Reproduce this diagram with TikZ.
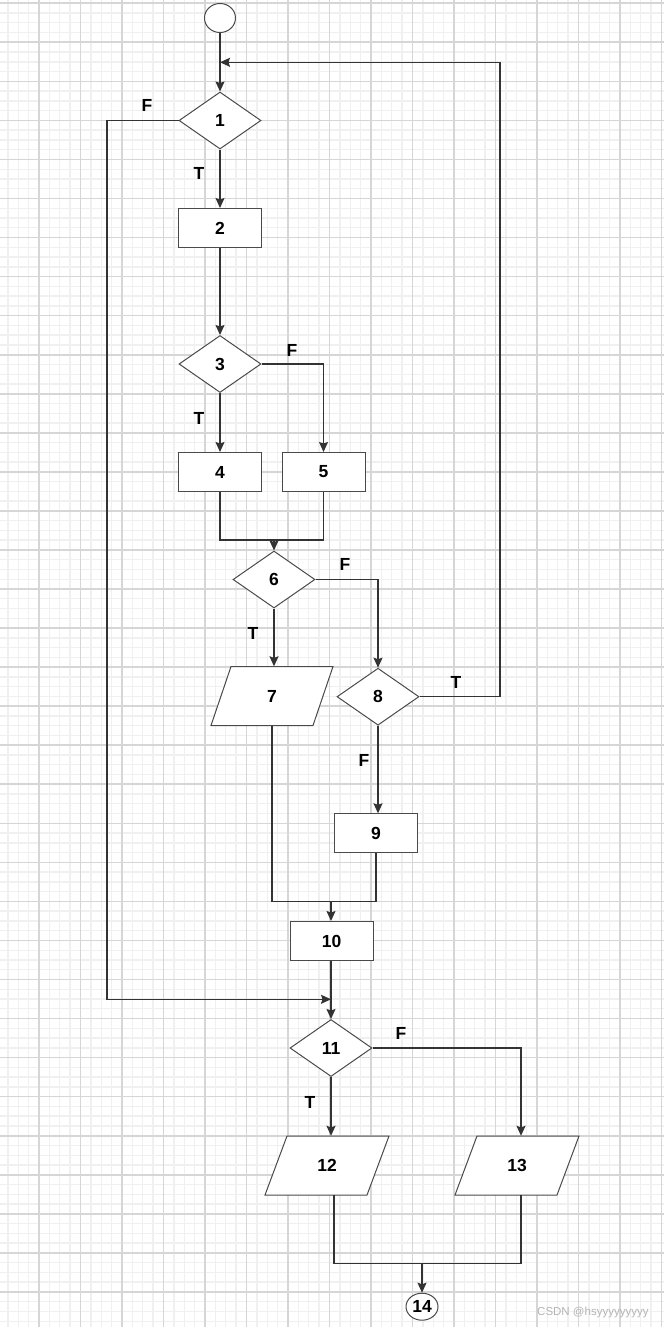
\documentclass[tikz,border=0pt]{standalone}
\usepackage{fontspec}
\setmainfont{Liberation Sans}
\usetikzlibrary{shapes.geometric,arrows.meta,calc}
\definecolor{gmajc}{HTML}{D6D6D6}
\definecolor{gminc}{HTML}{F0F0F0}
\definecolor{linec}{HTML}{333333}
\definecolor{shpc}{HTML}{4A4A4A}
\definecolor{wmc}{HTML}{B4B4B4}
\begin{document}
\begin{tikzpicture}[x=1pt,y=-1pt,
  every node/.style={font=\fontsize{17.5}{17.5}\selectfont\bfseries},
  gmin/.style={draw=gminc,line width=1.4pt},
  gmaj/.style={draw=gmajc,line width=1.6pt},
  ln/.style={draw=linec,line width=1.3pt},
  arr/.style={ln,-{Stealth[length=10pt,width=9pt,inset=1.5pt]}},
  shp/.style={draw=shpc,line width=1pt,fill=white,inner sep=0pt},
  proc/.style={shp,rectangle,minimum width=83pt,minimum height=39pt},
  dec/.style={shp,diamond,minimum width=82pt,minimum height=57pt},
  io/.style={rectangle,inner sep=0pt,minimum width=102pt,minimum height=59pt},
  iob/.style={shp},
  term/.style={shp,ellipse,minimum width=31pt,minimum height=29pt},
  lbl/.style={inner sep=0pt}
]
\useasboundingbox (0,0) rectangle (664,1327);
\fill[white] (0,0) rectangle (664,1327);
% grid
\foreach \i in {0,...,64} \draw[gmin] ({-2.5+10.375*\i},0) -- ({-2.5+10.375*\i},1327);
\foreach \i in {0,...,136} \draw[gmin] (0,{3.25+9.7625*\i}) -- (664,{3.25+9.7625*\i});
\foreach \i in {0,...,16} \draw[gmaj] ({-2.5+41.5*\i},0) -- ({-2.5+41.5*\i},1327);
\foreach \i in {0,...,33} \draw[gmaj] (0,{3.25+39.05*\i}) -- (664,{3.25+39.05*\i});

% parallelogram bodies (positions of the io nodes)
\coordinate (p7) at (272,696);
\coordinate (p12) at (327,1165.5);
\coordinate (p13) at (517,1165.5);
\foreach \p/\o in {p7/10, p12/11, p13/11}{
  \path[iob] ($(\p)+(-51+\o,-29.5)$) -- ($(\p)+(51+\o,-29.5)$) -- ($(\p)+(51-\o,29.5)$) -- ($(\p)+(-51-\o,29.5)$) -- cycle;
}

% nodes
\node[term] (n0) at (220,18) {};
\node[dec] (n1) at (220,120.5) {1};
\node[proc] (n2) at (220,228) {2};
\node[dec] (n3) at (220,364) {3};
\node[proc] (n4) at (220,472) {4};
\node[proc] (n5) at (323.5,472) {5};
\node[dec] (n6) at (274,579.5) {6};
\node[io] (n7) at (p7) {7};
\node[dec] (n8) at (378,696.7) {8};
\node[proc] (n9) at (376,833.3) {9};
\node[proc] (n10) at (331.5,941) {10};
\node[dec] (n11) at (331,1048) {11};
\node[io] (n12) at (p12) {12};
\node[io] (n13) at (p13) {13};
\node[term,minimum width=32pt,minimum height=27pt] (n14) at (422,1306.7) {14};

% junction coordinates
\coordinate (j1) at (220,62.3);
\coordinate (c8) at (500,62.3);
\coordinate (c1) at (107,999.3);
\coordinate (j3) at (331,999.3);
\coordinate (j4) at (274,540);
\coordinate (j2) at (331,901.7);
\coordinate (j5) at (422,1263.3);
\coordinate (c13) at (521,1048);

% connectors
\draw[arr] (n0.south) -- (n1.north);
\draw[arr] (n8.east) -| (c8) -- (j1);
\draw[arr] (n1.south) -- (n2.north);
\draw[arr] (n1.west) -| (c1) -- (j3);
\draw[arr] (n2.south) -- (n3.north);
\draw[arr] (n3.south) -- (n4.north);
\draw[arr] (n3.east) -| (n5.north);
\draw[ln] (n4.south) |- (j4);
\draw[ln] (n5.south) |- (j4);
\draw[arr] (j4) -- (n6.north);
\draw[arr] (n6.south) -- (n6.south |- n7.north);
\draw[arr] (n6.east) -| (n8.north);
\draw[arr] (n8.south) -- (n8.south |- n9.north);
\draw[ln] (n7.south) |- (j2);
\draw[ln] (n9.south) |- (j2);
\draw[arr] (j2) -- (j2 |- n10.north);
\draw[arr] (j3 |- n10.south) -- (n11.north);
\draw[arr] (n11.south) -- (n11.south |- n12.north);
\draw[arr] (n11.east) -- (c13) -- (c13 |- n13.north);
\draw[ln] ($(n12.south)+(7,0)$) |- (j5);
\draw[ln] (c13 |- n13.south) |- (j5);
\draw[arr] (j5) -- (n14.north);

% labels
\node[lbl] (lf1) at (147,105) {F};
\node[lbl] (lt1) at (199,173) {T};
\node[lbl] (lf3) at (292,350) {F};
\node[lbl] (lt3) at (199,418) {T};
\node[lbl] (lf6) at (345,564) {F};
\node[lbl] (lt6) at (253,633) {T};
\node[lbl] (lt8) at (456,682) {T};
\node[lbl] (lf8) at (364,760) {F};
\node[lbl] (lf11) at (401,1033) {F};
\node[lbl] (lt11) at (310,1102) {T};

% watermark
\node[anchor=west,inner sep=0pt,text=wmc,font=\fontsize{11.5}{11.5}\selectfont] (wm) at (537,1313) {CSDN @hsyyyyyyyyy};
\end{tikzpicture}
\end{document}
